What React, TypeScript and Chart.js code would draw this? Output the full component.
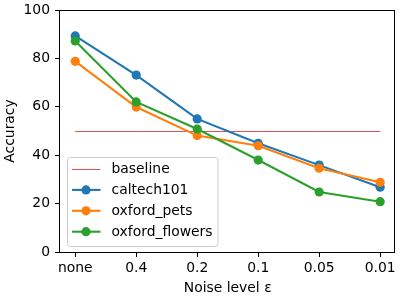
import React, { useEffect, useRef } from "react";
import { Chart, registerables } from "chart.js";

Chart.register(...registerables);

const categories = ["none", "0.4", "0.2", "0.1", "0.05", "0.01"];
const baseline = [50, 50, 50, 50, 50, 50];
const caltech101 = [89.3, 73.1, 55, 44.9, 35.9, 26.8];
const oxfordPets = [78.8, 59.9, 48.1, 43.9, 34.6, 28.8];
const oxfordFlowers = [87.2, 62, 50.8, 38, 24.8, 20.8];
const yTicks = [0, 20, 40, 60, 80, 100];

const FONT = "'DejaVu Sans', sans-serif";
const FS = 13.9;

const toPts = (arr: number[]) => arr.map((y, i) => ({ x: i, y }));

const framePlugin = {
  id: "frame",
  beforeDatasetDraw(chart: any, args: any) {
    if (args.index === 0) {
      chart.ctx.save();
      chart.ctx.translate(0, 0.5);
    }
  },
  afterDatasetDraw(chart: any, args: any) {
    if (args.index === 0) chart.ctx.restore();
  },
  afterDraw(chart: any) {
    const { ctx, chartArea } = chart;
    const { left, right, top, bottom } = chartArea;
    ctx.save();
    ctx.strokeStyle = "#000";
    ctx.lineWidth = 1;
    ctx.strokeRect(Math.round(left) - 0.5, Math.round(top) + 0.5, Math.round(right - left), Math.round(bottom - top));
    ctx.restore();
  },
};

const legendPlugin = {
  id: "mplLegend",
  afterDraw(chart: any) {
    const { ctx } = chart;
    const ds = chart.data.datasets;
    const x0 = 67.5, y0 = 157.5, w = 150.5, h = 89;
    ctx.save();
    ctx.fillStyle = "rgba(255,255,255,0.8)";
    ctx.strokeStyle = "#cccccc";
    ctx.lineWidth = 1;
    ctx.beginPath();
    (ctx as any).roundRect(x0, y0, w, h, 3);
    ctx.fill();
    ctx.stroke();
    ctx.font = `${FS}px ${FONT}`;
    ctx.textBaseline = "middle";
    ctx.textAlign = "left";
    ds.forEach((d: any, i: number) => {
      const cy = i === 0 ? 169.5 : 169 + i * 20.9;
      ctx.strokeStyle = d.borderColor;
      ctx.lineWidth = d.borderWidth;
      ctx.beginPath();
      ctx.moveTo(72, cy);
      ctx.lineTo(100.5, cy);
      ctx.stroke();
      if (d.pointRadius > 0) {
        ctx.fillStyle = d.borderColor;
        ctx.beginPath();
        ctx.arc(86, cy, d.pointRadius, 0, Math.PI * 2);
        ctx.fill();
      }
      ctx.fillStyle = "#000";
      ctx.fillText(d.label, 111.5, 169.5 + i * 20.9);
    });
    ctx.restore();
  },
};

export default function App() {
  const ref = useRef<HTMLCanvasElement>(null);
  useEffect(() => {
    document.body.style.margin = "0";
    const mk = (label: string, data: number[], color: string, order: number) => ({
      label,
      data: toPts(data),
      borderColor: color,
      backgroundColor: color,
      borderWidth: 2.1,
      pointRadius: 4.6,
      pointHoverRadius: 4.6,
      pointBorderWidth: 0,
      pointBackgroundColor: color,
      order,
    });
    const chart = new Chart(ref.current!, {
      type: "line",
      data: {
        datasets: [
          {
            label: "baseline",
            data: toPts(baseline),
            borderColor: "#e05252",
            backgroundColor: "#e05252",
            borderWidth: 1,
            pointRadius: 0,
            order: 3,
          } as any,
          mk("caltech101", caltech101, "#1f77b4", 2),
          mk("oxford_pets", oxfordPets, "#ff7f0e", 1),
          mk("oxford_flowers", oxfordFlowers, "#2ca02c", 0),
        ],
      },
      options: {
        responsive: false,
        animation: false,
        events: [],
        layout: { padding: { top: 10, right: 4, left: 0, bottom: 0 } },
        plugins: { legend: { display: false }, tooltip: { enabled: false } },
        elements: { line: { tension: 0 } },
        scales: {
          x: {
            type: "linear",
            min: -0.25,
            max: 5.25,
            afterBuildTicks: (s: any) => {
              s.ticks = categories.map((_, i) => ({ value: i }));
            },
            afterFit: (s: any) => {
              s.height = 48;
              s.paddingLeft = 0;
              s.paddingRight = 0;
            },
            ticks: {
              callback: (v: any) => categories[v] ?? "",
              color: "#000",
              font: { family: FONT, size: FS },
              padding: 3,
              maxRotation: 0,
              autoSkip: false,
            },
            grid: {
              drawOnChartArea: false,
              drawTicks: true,
              tickLength: 5,
              tickColor: "#000",
              tickWidth: 1,
            },
            border: { display: false },
            title: {
              display: true,
              text: "Noise level ε",
              color: "#000",
              font: { family: FONT, size: FS },
              padding: { top: 0, bottom: 3.5 },
            },
          },
          y: {
            min: 0,
            max: 100,
            afterBuildTicks: (s: any) => {
              s.ticks = yTicks.map((v) => ({ value: v }));
            },
            afterFit: (s: any) => {
              s.width = 60;
              s.paddingTop = 0;
              s.paddingBottom = 0;
            },
            ticks: {
              color: "#000",
              font: { family: FONT, size: FS },
              padding: 5,
            },
            grid: {
              drawOnChartArea: false,
              drawTicks: true,
              tickLength: 5,
              tickColor: "#000",
              tickWidth: 1,
            },
            border: { display: false },
            title: {
              display: true,
              text: "Accuracy",
              color: "#000",
              font: { family: FONT, size: FS },
              padding: { top: 2.5, bottom: 0 },
            },
          },
        },
      },
      plugins: [framePlugin, legendPlugin],
    } as any);
    return () => chart.destroy();
  }, []);
  return (
    <div style={{ position: "absolute", left: 0, top: 0, width: 400, height: 300, background: "#fff" }}>
      <canvas ref={ref} width={400} height={300} />
    </div>
  );
}
